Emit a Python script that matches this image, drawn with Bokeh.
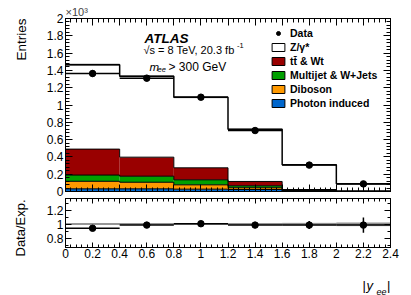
import numpy as np
from bokeh.plotting import figure
from bokeh.models import (Label, LinearAxis, FixedTicker, CustomJSTickFormatter, Title,
                          Range1d, Legend, LegendItem, ColumnDataSource)
from bokeh.layouts import column, row
from bokeh.embed import file_html
from bokeh.resources import INLINE

# ---------------- data (values in units of 10^3 entries) ----------------
bin_edges = [0.0, 0.4, 0.8, 1.2, 1.6, 2.0, 2.4]
data_vals = [1.364, 1.310, 1.090, 0.705, 0.305, 0.088]
data_errs = [0.037, 0.036, 0.033, 0.027, 0.017, 0.009]
photon_induced = [0.031, 0.031, 0.027, 0.023, 0.005, 0.002]
diboson = [0.087, 0.076, 0.050, 0.020, 0.005, 0.001]
multijet_wjets = [0.072, 0.070, 0.058, 0.023, 0.005, 0.001]
ttbar_wt = [0.300, 0.220, 0.139, 0.050, 0.008, 0.001]
z_gamma = [0.975, 0.936, 0.816, 0.604, 0.286, 0.084]
mc_rel_unc = [0.010, 0.010, 0.010, 0.012, 0.020, 0.030]
ratio_vals = [0.940, 0.985, 1.005, 0.985, 0.985, 0.985]
ratio_errs = [0.027, 0.028, 0.030, 0.038, 0.057, 0.110]

x_ticks = [0.0, 0.2, 0.4, 0.6, 0.8, 1.0, 1.2, 1.4, 1.6, 1.8, 2.0, 2.2, 2.4]
y_ticks = [0.0, 0.2, 0.4, 0.6, 0.8, 1.0, 1.2, 1.4, 1.6, 1.8, 2.0]
ratio_ticks = [0.8, 1.0, 1.2]

FONT = "Liberation Sans"
C_TT = "#990000"
C_MJ = "#00a000"
C_DB = "#ff9900"
C_PH = "#0066cc"

STRIP_W = 30
W = 375
BL, BR = 35, 15
MAIN_TOP, MAIN_FRAME, MAIN_BOT = 18, 173, 7
RAT_TOP, RAT_FRAME, RAT_BOT = 0, 49, 18
XT_H = 30
MAIN_H = MAIN_TOP + MAIN_FRAME + MAIN_BOT
RAT_H = RAT_TOP + RAT_FRAME + RAT_BOT

edges = np.array(bin_edges)
lo = edges[:-1]
hi = edges[1:]
ctr = 0.5 * (lo + hi)

layers = [np.array(photon_induced), np.array(diboson), np.array(multijet_wjets),
          np.array(ttbar_wt), np.array(z_gamma)]
colors = [C_PH, C_DB, C_MJ, C_TT, "white"]
cum = np.cumsum(np.vstack(layers), axis=0)
bottoms = np.vstack([np.zeros(len(lo)), cum[:-1]])
total = cum[-1]

label_fmt = CustomJSTickFormatter(code="return String(Math.round(tick*10)/10);")
empty_fmt = CustomJSTickFormatter(code="return '';")


def minor_list(a, b, step):
    n = int(round((b - a) / step))
    return [round(a + k * step, 6) for k in range(n + 1)]


def style_axis(ax, ticker, major_in, minor_in, labels, size="12px", standoff=2):
    ax.ticker = ticker
    ax.axis_line_color = "black"
    ax.axis_line_width = 1
    ax.major_tick_line_color = "black"
    ax.minor_tick_line_color = "black"
    ax.major_tick_in = major_in
    ax.major_tick_out = 0
    ax.minor_tick_in = minor_in
    ax.minor_tick_out = 0
    ax.axis_label = None
    if labels:
        ax.formatter = label_fmt
        ax.major_label_text_font = FONT
        ax.major_label_text_font_size = size
        ax.major_label_text_color = "black"
        ax.major_label_standoff = standoff
    else:
        ax.formatter = empty_fmt
        ax.major_label_text_font_size = "0px"
        ax.major_label_standoff = 0


def make_fig(yr, top, frame, bottom):
    f = figure(width=W, height=top + frame + bottom, x_range=Range1d(0, 2.4), y_range=yr,
               output_backend="svg", toolbar_location=None,
               x_axis_location=None, y_axis_location=None,
               min_border_left=BL, min_border_right=BR,
               min_border_top=top, min_border_bottom=bottom)
    f.xgrid.visible = False
    f.ygrid.visible = False
    f.outline_line_color = "black"
    f.outline_line_width = 1
    f.background_fill_color = "white"
    f.border_fill_color = "white"
    return f


def make_strip(w, h):
    # a text-only strip whose frame is the whole canvas (1 unit = 1 pixel)
    f = figure(width=w, height=h, x_range=Range1d(0, w), y_range=Range1d(0, h),
               output_backend="svg", toolbar_location=None, title=None,
               x_axis_location=None, y_axis_location=None,
               min_border_left=0, min_border_right=0, min_border_top=0, min_border_bottom=0)
    f.xgrid.visible = False
    f.ygrid.visible = False
    f.outline_line_color = None
    f.background_fill_color = "white"
    f.border_fill_color = "white"
    return f


def add_label(fig, x, y, text, size, style="normal", align="left", baseline="alphabetic", angle=0.0):
    fig.add_layout(Label(x=x, y=y, text=text, text_font=FONT, text_font_size=size,
                         text_font_style=style, text_align=align, text_baseline=baseline,
                         angle=angle, text_color="black"))


x_ticker = FixedTicker(ticks=x_ticks, minor_ticks=minor_list(0.0, 2.4, 0.04))
y_ticker = FixedTicker(ticks=y_ticks, minor_ticks=minor_list(0.0, 2.0, 0.04))
r_ticker = FixedTicker(ticks=ratio_ticks, minor_ticks=minor_list(0.7, 1.3, 0.1))

# ---------------- main panel ----------------
p = make_fig(Range1d(0, 2.0), MAIN_TOP, MAIN_FRAME, MAIN_BOT)
ax_b = LinearAxis(); style_axis(ax_b, x_ticker, 7, 4, False)
ax_t = LinearAxis(); style_axis(ax_t, x_ticker, 7, 4, False)
ax_l = LinearAxis(); style_axis(ax_l, y_ticker, 7, 4, True, "12px", 2)
ax_r = LinearAxis(); style_axis(ax_r, y_ticker, 7, 4, False)
p.add_layout(ax_b, "below")
p.add_layout(ax_t, "above")
p.add_layout(ax_l, "left")
p.add_layout(ax_r, "right")

for i in range(len(layers)):
    p.quad(left=lo, right=hi, bottom=bottoms[i], top=cum[i],
           fill_color=colors[i], line_color=None)

unc = np.array(mc_rel_unc)
p.quad(left=lo, right=hi, bottom=total * (1 - unc), top=total * (1 + unc),
       fill_color="#b0b0b0", line_color=None)

for i in range(len(layers) - 1):
    p.step(x=edges, y=np.append(cum[i], cum[i][-1]), mode="after",
           line_color="black", line_width=1)
p.step(x=edges, y=np.append(total, total[-1]), mode="after",
       line_color="black", line_width=1.5)

dv = np.array(data_vals)
de = np.array(data_errs)
p.segment(x0=lo, y0=dv, x1=hi, y1=dv, line_color="black", line_width=1.5)
p.segment(x0=ctr, y0=dv - de, x1=ctr, y1=dv + de, line_color="black", line_width=1.5)
r_data = p.scatter(x=ctr, y=dv, marker="circle", size=6.5, fill_color="black", line_color="black")

# legend swatches (not drawn in the plot: NaN coordinates)
proxies = []
for c in ["white", C_TT, C_MJ, C_DB, C_PH]:
    src = ColumnDataSource(dict(left=[np.nan], right=[np.nan], top=[np.nan], bottom=[np.nan]))
    proxies.append(p.quad(source=src, left="left", right="right", top="top", bottom="bottom",
                          fill_color=c, line_color="black", line_width=1))
names = ["Data", "Z/\u03b3*", "tt\u0304 & Wt", "Multijet & W+Jets", "Diboson", "Photon induced"]
items = [LegendItem(label=names[0], renderers=[r_data])]
for n, r_ in zip(names[1:], proxies):
    items.append(LegendItem(label=n, renderers=[r_]))
legend = Legend(items=items, location=(205, 81), orientation="vertical",
                glyph_width=16, glyph_height=10, label_height=14, label_width=10,
                label_standoff=4, spacing=0, padding=0, margin=0,
                border_line_color=None, background_fill_alpha=0,
                label_text_font=FONT, label_text_font_style="bold",
                label_text_font_size="10.5px", label_text_color="black")
p.add_layout(legend, "center")


def mx(px):
    return (px - 65.0) / 135.42


def my(py):
    return (191.0 - py) / 86.5


add_label(p, mx(144), my(37.5), "ATLAS", "13.5px", style="bold italic")
add_label(p, mx(143), my(49.5), "\u221as = 8 TeV, 20.3 fb", "11px")
add_label(p, mx(236.5), my(45), "-1", "7.5px")
add_label(p, mx(149), my(66.5), "m", "11.5px", style="italic")
add_label(p, mx(157), my(69), "ee", "7.5px", style="italic")
add_label(p, mx(168), my(66.5), "> 300 GeV", "12px")

p.add_layout(Title(text="\u00d710\u00b3", align="left", text_font=FONT, text_font_size="11px",
                   text_font_style="normal", standoff=2), "above")

# ---------------- ratio panel ----------------
q = make_fig(Range1d(0.665, 1.365), RAT_TOP, RAT_FRAME, RAT_BOT)
bx_b = LinearAxis(); style_axis(bx_b, x_ticker, 5, 3, True, "12px", 1)
bx_t = LinearAxis(); style_axis(bx_t, x_ticker, 5, 3, False)
by_l = LinearAxis(); style_axis(by_l, r_ticker, 6, 3, True, "12px", 2)
by_r = LinearAxis(); style_axis(by_r, r_ticker, 6, 3, False)
q.add_layout(bx_b, "below")
q.add_layout(bx_t, "above")
q.add_layout(by_l, "left")
q.add_layout(by_r, "right")

q.quad(left=lo, right=hi, bottom=1 - unc, top=1 + unc, fill_color="#c8c8c8", line_color=None)
q.segment(x0=[0.0], y0=[1.0], x1=[2.4], y1=[1.0], line_color="#808080", line_width=1.5)

rv = np.array(ratio_vals)
re_ = np.array(ratio_errs)
q.segment(x0=lo, y0=rv, x1=hi, y1=rv, line_color="black", line_width=1.5)
q.segment(x0=ctr, y0=rv - re_, x1=ctr, y1=rv + re_, line_color="black", line_width=1.5)
q.scatter(x=ctr, y=rv, marker="circle", size=6.5, fill_color="black", line_color="black")

# ---------------- left strip with both y-axis titles ----------------
LEFT_H = MAIN_H + RAT_H
s_left = make_strip(STRIP_W, LEFT_H)
# each text starts at its lower end and runs upwards (page y: 60 and 256)
add_label(s_left, 21, LEFT_H - 60, "Entries", "13.5px",
          align="left", baseline="middle", angle=np.pi / 2)
add_label(s_left, 19.5, LEFT_H - 256, "Data/Exp.", "13px",
          align="left", baseline="middle", angle=np.pi / 2)

# x-axis title strip: |y_ee|
s_x = make_strip(STRIP_W + W, XT_H)
add_label(s_x, 390, 10.5, "|", "13px", align="right")
add_label(s_x, 386, 4, "ee", "9px", style="italic", align="right")
add_label(s_x, 372.5, 10.5, "y", "13px", style="italic", align="right")
add_label(s_x, 365.5, 10.5, "|", "13px", align="right")

layout = column(row(s_left, column(p, q, spacing=0), spacing=0), s_x, spacing=0)
open("out.html", "w").write(file_html(layout, INLINE))
